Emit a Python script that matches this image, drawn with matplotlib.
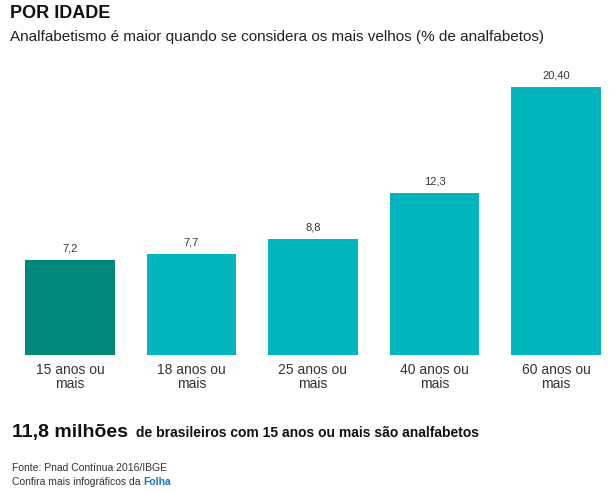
import matplotlib
matplotlib.use("Agg")
import matplotlib.pyplot as plt

categories = ["15 anos ou\nmais", "18 anos ou\nmais", "25 anos ou\nmais", "40 anos ou\nmais", "60 anos ou\nmais"]
values = [7.2, 7.7, 8.8, 12.3, 20.40]
labels = ["7,2", "7,7", "8,8", "12,3", "20,40"]
colors = ["#00897B", "#00B5BD", "#00B5BD", "#00B5BD", "#00B5BD"]

W, H = 614, 493
fig = plt.figure(figsize=(W/100, H/100), dpi=100)
plt.rcParams['font.family'] = ['Liberation Sans', 'DejaVu Sans']

def fx(px): return px / W
def fy(py): return 1 - py / H

base, top = 355, 60
ax = fig.add_axes([fx(9.25), fy(base), 607.5/W, (base-top)/H])
ax.bar(range(5), values, width=0.74, color=colors)
ax.set_xlim(-0.5, 4.5)
ax.set_ylim(0, (base-top)/13.14)
for i, (v, l) in enumerate(zip(values, labels)):
    ax.text(i, v + 0.5, l, ha='center', va='bottom', fontsize=8, color='#333333')
ax.set_xticks(range(5))
ax.set_xticklabels(categories, fontsize=10, color='#333333', linespacing=1.0)
ax.tick_params(length=0, pad=6)
ax.set_yticks([])
for s in ax.spines.values():
    s.set_visible(False)

fig.text(fx(10), fy(14), "POR IDADE", fontsize=13, fontweight='bold', va='center', color='#111111')
fig.text(fx(10), fy(37), "Analfabetismo é maior quando se considera os mais velhos (% de analfabetos)",
         fontsize=11, va='center', color='#222222')

t1 = fig.text(fx(12), fy(432), "11,8 milhões", fontsize=14, fontweight='bold', va='center', color='#111111')
fig.canvas.draw()
bb = t1.get_window_extent()
fig.text(bb.x1/W + 4/W, fy(433), " de brasileiros com 15 anos ou mais são analfabetos",
         fontsize=10, fontweight='bold', va='center', color='#111111')

fig.text(fx(12), fy(468), "Fonte: Pnad Contínua 2016/IBGE", fontsize=7.5, va='center', color='#333333')
t2 = fig.text(fx(12), fy(482), "Confira mais infográficos da ", fontsize=7.5, va='center', color='#333333')
fig.canvas.draw()
bb2 = t2.get_window_extent()
fig.text(bb2.x1/W, fy(482), "Folha", fontsize=7.5, fontweight='bold', va='center', color='#1a73c8')

fig.savefig("out.png", dpi=100, facecolor='white')
